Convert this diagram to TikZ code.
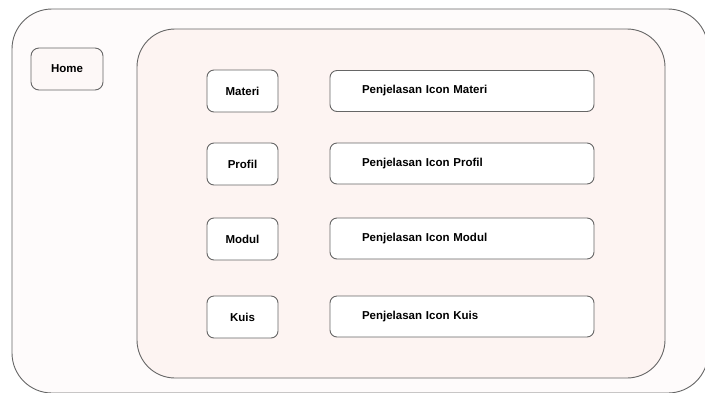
\documentclass[tikz,border=0pt]{standalone}
\usepackage{fontspec}
\setmainfont{Liberation Sans}
\definecolor{garis}{HTML}{666666}
\definecolor{latar}{HTML}{FEFBFB}
\definecolor{panel}{HTML}{FDF4F2}
\definecolor{tombol}{HTML}{FDF8F7}
\tikzset{
  ikon/.style={draw=garis,line width=0.9pt,fill=white,rounded corners=7pt,
    minimum width=71pt,minimum height=42pt,inner sep=0pt,
    font=\fontsize{11.5}{13}\selectfont\bfseries},
  ket/.style={draw=garis,line width=0.9pt,fill=white,rounded corners=7pt,
    minimum width=264pt,minimum height=41pt,inner xsep=32pt,inner ysep=0pt,
    text width=200pt,align=left,
    font=\fontsize{11.5}{13}\selectfont\bfseries}
}
\begin{document}
\begin{tikzpicture}[x=1pt,y=-1pt]
\useasboundingbox (0,0) rectangle (705,392);
% outer frame
\draw[garis,line width=0.9pt,fill=latar,rounded corners=40pt] (12,9) rectangle (708,393);
% inner panel
\draw[garis,line width=0.9pt,fill=panel,rounded corners=38pt] (137,29) rectangle (665,378);

% home
\node[ikon,fill=tombol,minimum width=72pt,rounded corners=8pt] (home) at (67,69) {Home};

% materi
\node[ikon] (materi) at (242.5,91) {Materi};
\node[ket] (ketmateri) at (462,91) {Penjelasan Icon Materi};

% profil
\node[ikon] (profil) at (242.5,164) {Profil};
\node[ket] (ketprofil) at (462,163.5) {Penjelasan Icon Profil};

% modul
\node[ikon] (modul) at (242.5,239) {Modul};
\node[ket] (ketmodul) at (462,238.5) {Penjelasan Icon Modul};

% kuis
\node[ikon] (kuis) at (242.5,317) {Kuis};
\node[ket] (ketkuis) at (462,316.5) {Penjelasan Icon Kuis};
\end{tikzpicture}
\end{document}
